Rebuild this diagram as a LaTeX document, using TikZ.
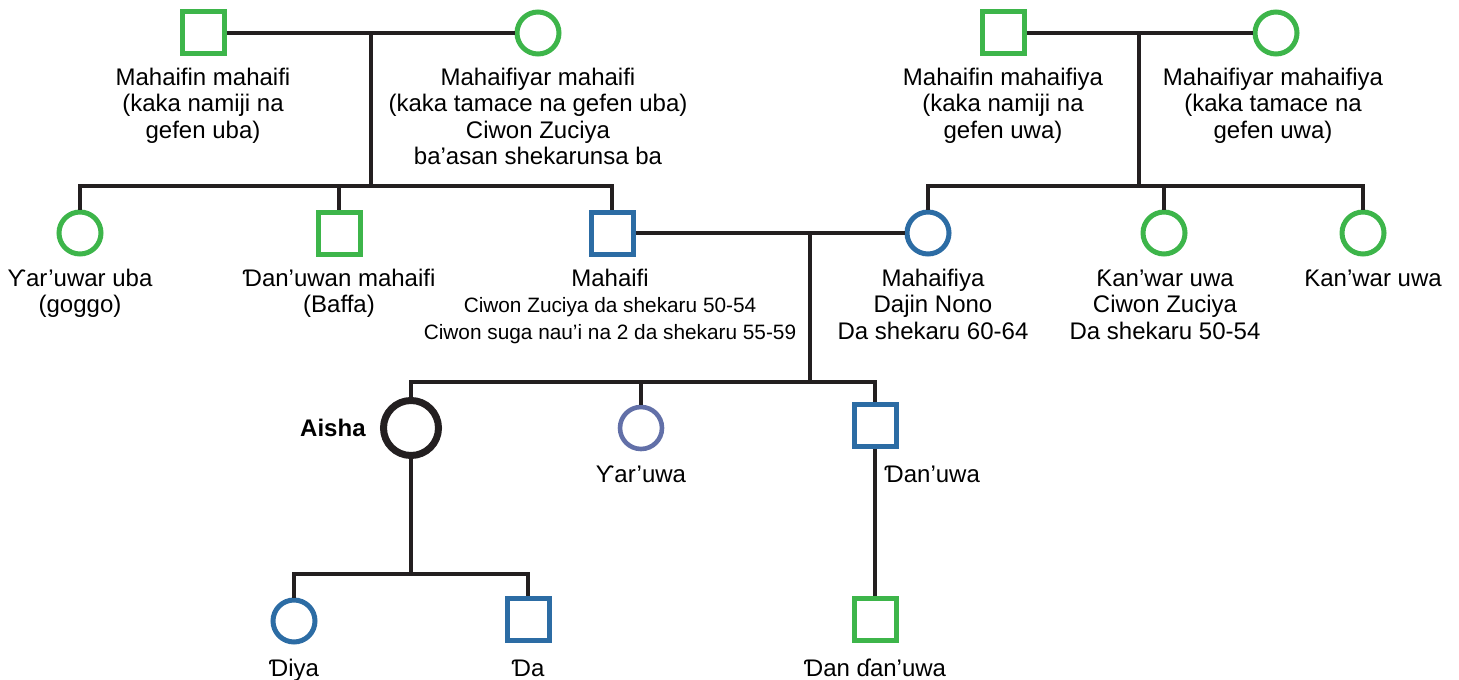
\documentclass[tikz,border=0pt]{standalone}
\usepackage{fontspec}
\setmainfont{Liberation Sans}
\definecolor{pgreen}{HTML}{3DB54A}
\definecolor{pblue}{HTML}{2C6CA4}
\definecolor{ppurple}{HTML}{6270A8}
\definecolor{pink}{HTML}{231F20}
\newcommand\pedfont{\fontsize{12}{13.3}\selectfont}
\newcommand\pedsmall{\fontsize{10.4}{13.3}\selectfont}
\tikzset{
  male/.style={draw, rectangle, minimum size=21pt, inner sep=0pt, line width=2.5pt},
  female/.style={draw, circle, minimum size=21pt, inner sep=0pt, line width=2.5pt},
  link/.style={line width=1.6pt, draw=pink},
  lbl/.style={anchor=north, inner sep=0pt, align=center, font=\pedfont, text=black},
}
\begin{document}
\begin{tikzpicture}[x=0.5pt,y=-0.5pt]
\useasboundingbox (0,0) rectangle (1459,679);
% generation 1
\node[male, draw=pgreen] (pgf) at (203,33) {};
\node[female, draw=pgreen] (pgm) at (538,33) {};
\node[male, draw=pgreen] (mgf) at (1003,33) {};
\node[female, draw=pgreen] (mgm) at (1276,33) {};
% generation 2
\node[female, draw=pgreen] (aunt) at (80,233) {};
\node[male, draw=pgreen] (uncle) at (339,233) {};
\node[male, draw=pblue] (father) at (612,233) {};
\node[female, draw=pblue] (mother) at (928,233) {};
\node[female, draw=pgreen] (auntb) at (1164,233) {};
\node[female, draw=pgreen] (auntc) at (1363,233) {};
% generation 3
\node[female, draw=pink, minimum size=27.5pt, line width=3.5pt] (aisha) at (411,428) {};
\node[female, draw=ppurple, line width=2.3pt] (sister) at (641,428) {};
\node[male, draw=pblue] (brother) at (875,425) {};
% generation 4
\node[female, draw=pblue] (diya) at (294,621) {};
\node[male, draw=pblue] (da) at (528,619) {};
\node[male, draw=pgreen] (nephew) at (875,619) {};
% junction points
\coordinate (pgc) at (371,33);
\coordinate (lbar) at (371,186);
\coordinate (mgc) at (1139,33);
\coordinate (rbar) at (1139,186);
\coordinate (pc) at (810,233);
\coordinate (cbar) at (810,382);
\coordinate (abar) at (411,574);
% connectors
\draw[link] (pgf.east) -- (pgm.west);
\draw[link] (pgc) -- (lbar);
\draw[link] (aunt.north) |- (lbar) -| (father.north);
\draw[link] (uncle.north) -- (uncle.north |- lbar);
\draw[link] (mgf.east) -- (mgm.west);
\draw[link] (mgc) -- (rbar);
\draw[link] (mother.north) |- (rbar) -| (auntc.north);
\draw[link] (auntb.north) -- (auntb.north |- rbar);
\draw[link] (father.east) -- (mother.west);
\draw[link] (pc) -- (cbar);
\draw[link] (aisha.north) |- (cbar) -| (brother.north);
\draw[link] (sister.north) -- (sister.north |- cbar);
\draw[link] (aisha.south) -- (abar);
\draw[link] (diya.north) |- (abar) -| (da.north);
\draw[link] (brother.south) -- (nephew.north);
% labels
\node[lbl] (tpgf) at (203,66) {\strut Mahaifin mahaifi\\(kaka namiji na\\gefen uba)};
\node[lbl] (tpgm) at (538,66) {\strut Mahaifiyar mahaifi\\(kaka tamace na gefen uba)\\Ciwon Zuciya\\ba’asan shekarunsa ba};
\node[lbl] (tmgf) at (1003,66) {\strut Mahaifin mahaifiya\\(kaka namiji na\\gefen uwa)};
\node[lbl] (tmgm) at (1273,66) {\strut Mahaifiyar mahaifiya\\(kaka tamace na\\gefen uwa)};
\node[lbl] (taunt) at (80,267) {\strut Ƴar’uwar uba\\(goggo)};
\node[lbl] (tuncle) at (339,267) {\strut Ɗan’uwan mahaifi\\(Baffa)};
\node[lbl] (tfather) at (610,267) {\strut Mahaifi\\{\pedsmall Ciwon Zuciya da shekaru 50-54}\\{\pedsmall Ciwon suga nau’i na 2 da shekaru 55-59}};
\node[lbl] (tmother) at (933,267) {\strut Mahaifiya\\Dajin Nono\\Da shekaru 60-64};
\node[lbl] (tauntb) at (1165,267) {\strut Ƙan’war uwa\\Ciwon Zuciya\\Da shekaru 50-54};
\node[lbl] (tauntc) at (1373,267) {\strut Ƙan’war uwa};
\node[anchor=east, inner sep=0pt, font=\pedfont\bfseries] (taisha) at (366,428) {Aisha};
\node[lbl] (tsister) at (641,463) {\strut Ƴar’uwa};
\node[lbl, anchor=north west] (tbrother) at (884,463) {\strut Ɗan’uwa};
\node[lbl] (tdiya) at (294,657) {\strut Ɗiya};
\node[lbl] (tda) at (528,657) {\strut Ɗa};
\node[lbl] (tnephew) at (875,657) {\strut Ɗan ɗan’uwa};
\end{tikzpicture}
\end{document}
